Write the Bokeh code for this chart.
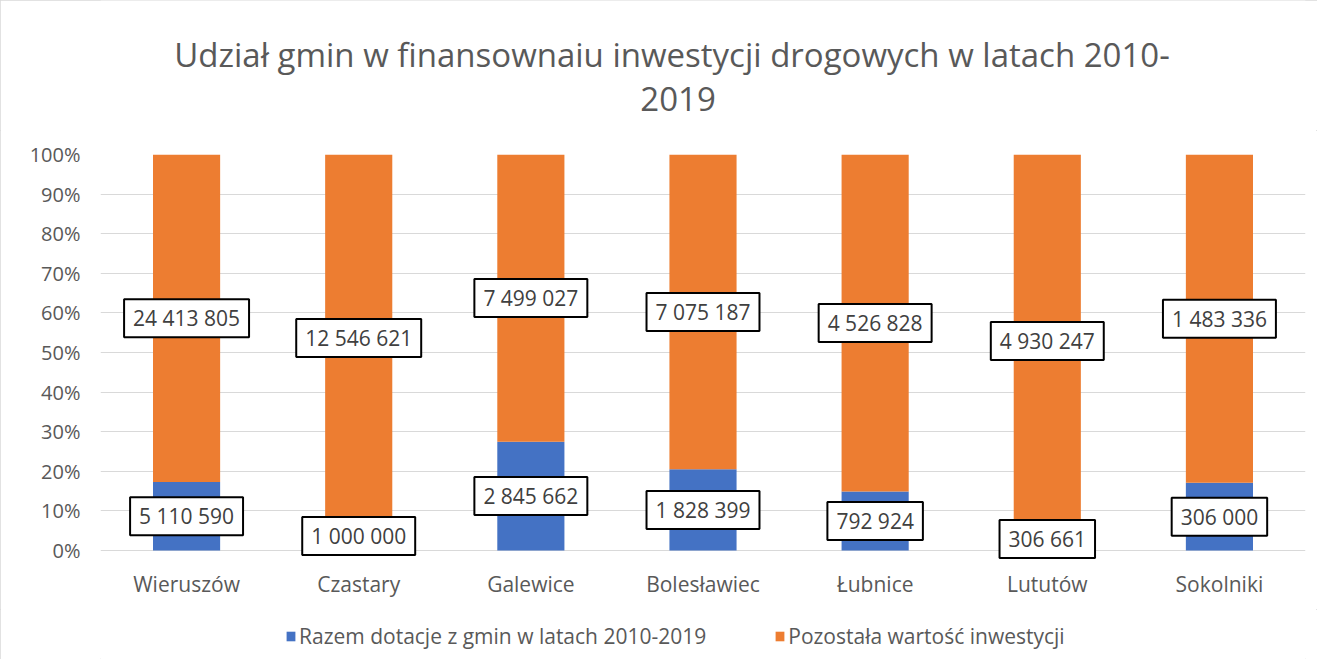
from bokeh.plotting import figure
from bokeh.layouts import column
from bokeh.models import (ColumnDataSource, FactorRange, NumeralTickFormatter, Legend, LegendItem,
                          FixedTicker, Label)
from bokeh.embed import file_html
from bokeh.resources import INLINE
from bokeh.core.properties import value

categories = ["Wieruszów", "Czastary", "Galewice", "Bolesławiec", "Łubnice", "Lututów", "Sokolniki"]
dotacje = [5110590, 1000000, 2845662, 1828399, 792924, 306661, 306000]
pozostala = [24413805, 12546621, 7499027, 7075187, 4526828, 4930247, 1483336]
series_names = ["Razem dotacje z gmin w latach 2010-2019", "Pozostała wartość inwestycji"]
y_ticks = [0.0, 0.1, 0.2, 0.3, 0.4, 0.5, 0.6, 0.7, 0.8, 0.9, 1.0]
title_lines = ["Udział gmin w finansownaiu inwestycji drogowych w latach 2010-", "2019"]

BLUE = "#4472C4"
ORANGE = "#ED7D31"
GREY = "#595959"
FONT = "Open Sans"
COLORS = [BLUE, ORANGE]
W = 1317
BL, BR = 100, 12


def fmt(v):
    return f"{v:,}".replace(",", " ")


tot = [a + b for a, b in zip(dotacje, pozostala)]
dot_share = [a / t for a, t in zip(dotacje, tot)]
poz_share = [b / t for b, t in zip(pozostala, tot)]

src = ColumnDataSource(dict(
    cat=categories,
    dot=dot_share,
    poz=poz_share,
    dot_mid=[d / 2 for d in dot_share],
    poz_mid=[d + p / 2 for d, p in zip(dot_share, poz_share)],
    dot_lbl=[fmt(v) for v in dotacje],
    poz_lbl=[fmt(v) for v in pozostala],
))

# ---- title strip
tp = figure(width=W, height=130, x_range=(0, 1), y_range=(0, 130),
            output_backend="svg", toolbar_location=None,
            x_axis_location=None, y_axis_location=None,
            min_border_left=BL, min_border_right=BR, min_border_top=0, min_border_bottom=0)
tp.grid.visible = False
tp.outline_line_color = None
tp.border_fill_color = "white"
for txt, xx, yy in ((title_lines[0], 0.4743, 76), (title_lines[1], 0.4793, 32)):
    tp.add_layout(Label(x=xx, y=yy, text=txt, text_align="center", text_baseline="alphabetic",
                        text_font=FONT, text_font_size="33px", text_color=GREY))

# ---- main chart
p = figure(
    x_range=FactorRange(*categories, range_padding=0),
    y_range=(-0.025, 1.0),
    width=W, height=479,
    output_backend="svg", toolbar_location=None,
    min_border_left=BL, min_border_right=BR, min_border_top=24, min_border_bottom=49,
)
p.outline_line_color = None
p.background_fill_color = "white"
p.border_fill_color = "white"

p.vbar_stack(["dot", "poz"], x="cat", width=0.39, color=COLORS, line_color=None, source=src)

for ycol, tcol in (("dot_mid", "dot_lbl"), ("poz_mid", "poz_lbl")):
    p.text(x="cat", y=ycol, text=tcol, source=src,
           text_align="center", text_baseline="middle",
           text_font=value(FONT), text_font_size="21px", text_color="#404040",
           background_fill_color="white", border_line_color="black", border_line_width=2,
           padding=(9, 5))

p.yaxis.ticker = FixedTicker(ticks=y_ticks)
p.yaxis.formatter = NumeralTickFormatter(format="0%")
for ax in (p.xaxis, p.yaxis):
    ax.axis_line_color = None
    ax.major_tick_line_color = None
    ax.minor_tick_line_color = None
    ax.major_label_text_font = FONT
    ax.major_label_text_font_size = "20px"
    ax.major_label_text_color = GREY
p.xaxis.major_label_text_font_size = "21px"
p.yaxis.major_label_standoff = 14
p.xaxis.major_label_standoff = 3

p.xgrid.grid_line_color = None
p.ygrid.ticker = FixedTicker(ticks=y_ticks)
p.ygrid.grid_line_color = "#D9D9D9"
p.ygrid.grid_line_width = 1

# ---- legend strip below the chart (legend swatches from hidden copies of the series)
lp = figure(width=W, height=50, x_range=FactorRange(*categories), y_range=(0, 1),
            output_backend="svg", toolbar_location=None,
            x_axis_location=None, y_axis_location=None,
            min_border_left=BL, min_border_right=BR, min_border_top=0, min_border_bottom=0)
lp.grid.visible = False
lp.outline_line_color = None
lp.border_fill_color = "white"
proxies = lp.vbar_stack(["dot", "poz"], x="cat", width=0.39, color=COLORS, line_color=None, source=src)
for r in proxies:
    r.visible = False

legend = Legend(
    items=[LegendItem(label=series_names[i], renderers=[proxies[i]]) for i in range(2)],
    orientation="horizontal", location=(185, 9),
    label_text_font=FONT, label_text_font_size="21px", label_text_color=GREY,
    glyph_width=11, glyph_height=12, label_standoff=3, spacing=68,
    padding=0, margin=0,
    border_line_color=None, background_fill_alpha=0,
)
lp.add_layout(legend)

layout = column(tp, p, lp, spacing=0,
                styles={"outline": "1px solid #D9D9D9", "outline-offset": "-1px"})

open("out.html", "w").write(file_html(layout, INLINE))
